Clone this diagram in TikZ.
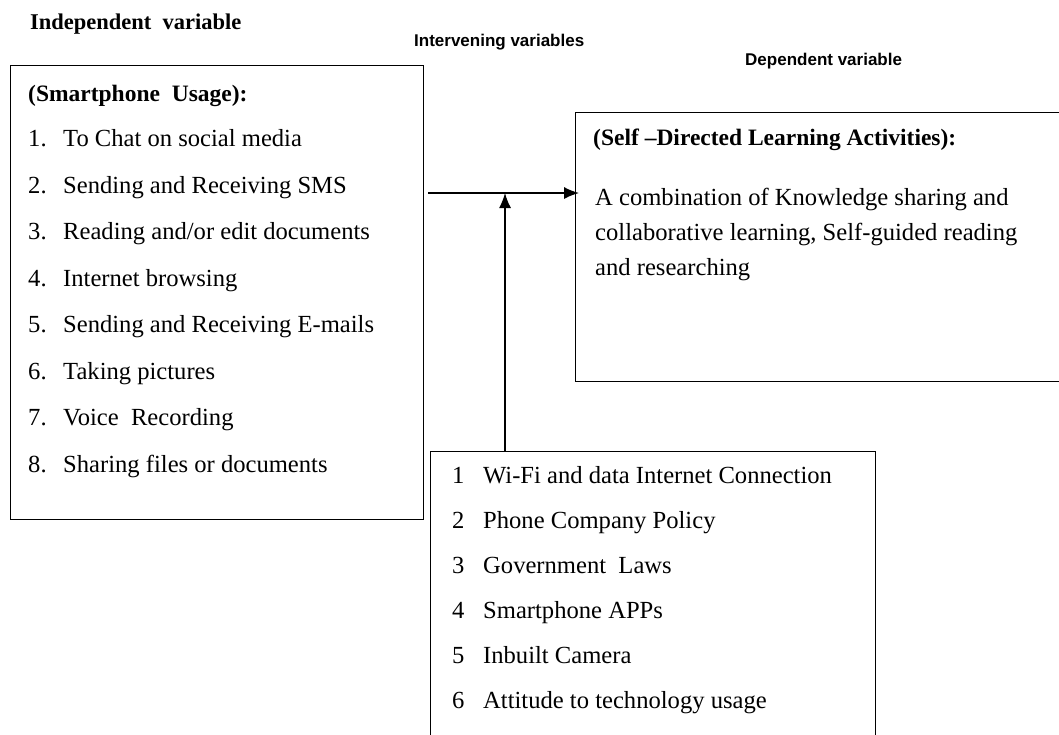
\documentclass[tikz,border=0pt]{standalone}
\usepackage{fontspec}
\setmainfont{Liberation Serif}
\newfontfamily\hdr{Liberation Sans}
\usetikzlibrary{arrows.meta}
\tikzset{
  box/.style={draw=black, line width=1.4pt, anchor=north west, inner sep=0pt, fill=none},
  txt/.style={anchor=base west, inner sep=0pt, font=\fontsize{24.6}{28}\selectfont},
  ttl/.style={anchor=base west, inner sep=0pt, font=\fontsize{23.5}{28}\selectfont\bfseries},
  hd/.style={anchor=base west, inner sep=0pt, font=\hdr\fontsize{17}{20}\selectfont\bfseries},
  arr/.style={line width=1.3pt, -{Latex[length=15pt,width=12pt]}}
}
\begin{document}
\begin{tikzpicture}[x=1pt,y=-1pt]
\useasboundingbox (0,0) rectangle (1059,734);
\clip (0,0) rectangle (1059,734);
% headers
\node[ttl, font=\fontsize{22.5}{27}\selectfont\bfseries] (hIndep) at (30,29) {Independent\ \ variable};
\node[hd] (hInter) at (414,46) {Intervening variables};
\node[hd] (hDep) at (745,65) {Dependent variable};
% boxes
\node[box, minimum width=413pt, minimum height=454pt] (left) at (10,65) {};
\node[box, minimum width=520pt, minimum height=269pt] (right) at (575,112) {};
\node[box, minimum width=445pt, minimum height=310pt] (bot) at (430,451) {};
% left box text
\node[ttl] (lt) at (28,101) {(Smartphone\ \ Usage):};
\foreach \i/\t [count=\k from 0] in {1/{To Chat on social media},2/{Sending and Receiving SMS},3/{Reading and/or edit documents},4/{Internet browsing},5/{Sending and Receiving E-mails},6/{Taking pictures},7/{Voice\ \ Recording},8/{Sharing files or documents}}{
  \node[txt] (ln\i) at (28,146.5+46.5*\k) {\i.};
  \node[txt] (l\i) at (63,146.5+46.5*\k) {\t};
}
% right box text
\node[ttl] (rt) at (593,145) {(Self \textendash Directed Learning Activities):};
\node[txt] (r1) at (595,205) {A combination of Knowledge sharing and};
\node[txt] (r2) at (595,240) {collaborative learning, Self-guided reading};
\node[txt] (r3) at (595,275) {and researching};
% bottom box text
\foreach \i/\t [count=\k from 0] in {1/{Wi-Fi and data Internet Connection},2/{Phone Company Policy},3/{Government\ \ Laws},4/{Smartphone APPs},5/{Inbuilt Camera},6/{Attitude to technology usage}}{
  \node[txt] (bn\i) at (452,483+45*\k) {\i};
  \node[txt] (b\i) at (483,483+45*\k) {\t};
}
% connectors
\coordinate (ah) at (0,193);
\coordinate (vx) at (505,0);
\draw[arr] ([xshift=4pt]left.east |- ah) -- ([xshift=4pt]right.west |- ah);
\draw[arr] (bot.north -| vx) -- (vx |- ah);
\end{tikzpicture}
\end{document}
